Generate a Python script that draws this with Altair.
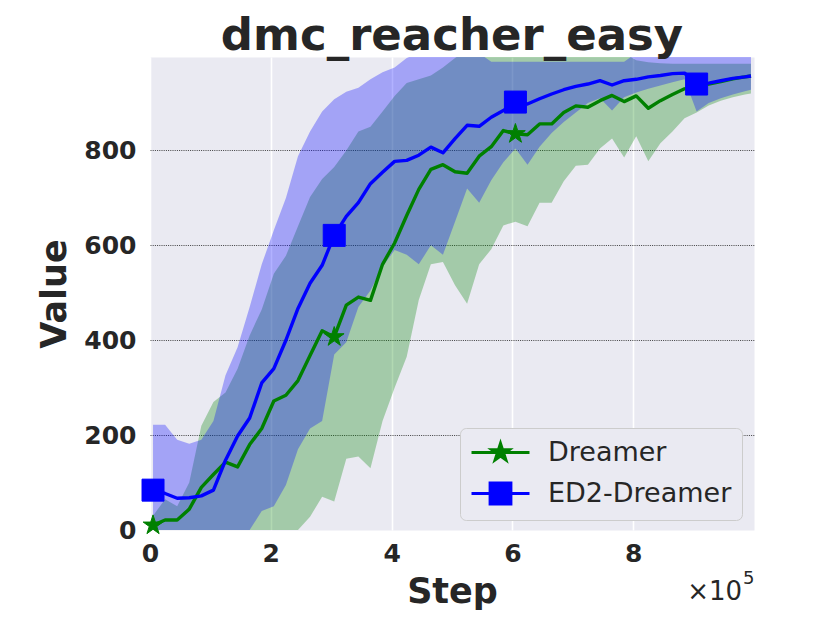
import altair as alt
import pandas as pd

# x positions (units of 1e5 steps)
STEP = [0.05, 0.25, 0.45, 0.65, 0.85, 1.05, 1.25, 1.45, 1.65, 1.85,
        2.05, 2.25, 2.45, 2.65, 2.85, 3.05, 3.25, 3.45, 3.65, 3.85,
        4.05, 4.25, 4.45, 4.65, 4.85, 5.05, 5.25, 5.45, 5.65, 5.85,
        6.05, 6.25, 6.45, 6.65, 6.85, 7.05, 7.25, 7.45, 7.65, 7.85,
        8.05, 8.25, 8.45, 8.65, 8.85, 9.05, 9.25, 9.45, 9.65, 9.85, 9.95]

DREAMER_MEAN = [10, 21, 21, 44, 90, 117, 143, 133, 180, 214,
                272, 284, 315, 368, 420, 407, 474, 491, 484, 560,
                605, 663, 718, 760, 770, 755, 752, 788, 808, 842,
                835, 833, 856, 856, 880, 894, 891, 905, 916, 903,
                915, 889, 905, 918, 930, 936, 940, 945, 951, 955, 957]
DREAMER_HI = [30, 65, 50, 100, 220, 270, 290, 340, 410, 465,
              540, 578, 640, 702, 740, 765, 800, 840, 850, 882,
              915, 942, 950, 958, 975, 995, 1010, 1010, 1010, 1010,
              1010, 1010, 1010, 1010, 1010, 1010, 1010, 1010, 1010, 1005,
              990, 986, 984, 983, 983, 983, 983, 983, 983, 983, 983]
DREAMER_LO = [0, 0, 0, 0, 0, 0, 0, 0, 0, 0,
              0, 0, 0, 28, 70, 60, 150, 155, 130, 230,
              300, 365, 485, 560, 565, 516, 477, 560, 592, 642,
              650, 640, 690, 690, 735, 768, 770, 804, 825, 785,
              830, 777, 815, 840, 868, 880, 895, 905, 912, 918, 920]

ED2_MEAN = [84, 77, 67, 68, 72, 84, 147, 198, 236, 310,
            340, 400, 467, 520, 558, 621, 661, 690, 730, 754,
            777, 779, 790, 807, 795, 825, 853, 851, 870, 884,
            902, 898, 909, 919, 928, 935, 940, 947, 938, 947,
            950, 955, 958, 962, 963, 940, 942, 947, 952, 955, 957]
ED2_HI = [222, 222, 190, 182, 190, 230, 326, 385, 470, 560,
          632, 700, 788, 840, 882, 908, 924, 932, 950, 965,
          975, 995, 1005, 1005, 1005, 1005, 1005, 1005, 987, 987,
          987, 987, 987, 987, 987, 987, 987, 987, 987, 987,
          1005, 1005, 1005, 1005, 1005, 1005, 1005, 1005, 1005, 1005, 1005]
ED2_LO = [0, 0, 0, 0, 0, 0, 0, 0, 0, 40,
          50, 95, 170, 214, 230, 370, 396, 470, 505, 555,
          590, 580, 560, 600, 580, 650, 720, 690, 737, 775,
          804, 770, 808, 837, 860, 880, 900, 910, 884, 912,
          922, 930, 937, 944, 950, 882, 900, 910, 918, 925, 928]

MARKER_IDX = [0, 15, 30, 45]
SERIES = ["Dreamer", "ED2-Dreamer"]
COLORS = ["#008000", "#0000FF"]
X_TICKS = [0, 2, 4, 6, 8]
Y_TICKS = [0, 200, 400, 600, 800]
TITLE = "dmc_reacher_easy"

rows = []
for name, mean, lo, hi in [("Dreamer", DREAMER_MEAN, DREAMER_LO, DREAMER_HI),
                           ("ED2-Dreamer", ED2_MEAN, ED2_LO, ED2_HI)]:
    for i, s in enumerate(STEP):
        rows.append({"series": name, "step": s, "mean": mean[i], "lo": lo[i],
                     "hi": hi[i], "marker": i in MARKER_IDX})
df = pd.DataFrame(rows)

TEXT = "#262626"
FONT = "DejaVu Sans"

x_axis = alt.Axis(values=X_TICKS, format="d", title="Step", grid=True,
                  gridColor="white", gridWidth=1.6, domain=False, ticks=False,
                  labelFlush=False, labelPadding=11, titlePadding=8)
y_axis = alt.Axis(values=Y_TICKS, format="d", title="Value", grid=True,
                  gridColor="#222222", gridDash=[1, 1.2], gridWidth=1,
                  gridOpacity=alt.condition("datum.value == 0", alt.value(0), alt.value(0.85)),
                  domain=False, ticks=False, labelFlush=False, labelPadding=14, titlePadding=11)

x_scale = alt.Scale(domain=[0, 10], nice=False, zero=False)
y_scale = alt.Scale(domain=[0, 997], nice=False, zero=False)
c_scale = alt.Scale(domain=SERIES, range=COLORS)


def X():
    return alt.X("step:Q", scale=x_scale, axis=x_axis, title="Step")


def Y(field):
    return alt.Y(field, type="quantitative", scale=y_scale, axis=y_axis, title="Value")


base = alt.Chart(df)

band_d = base.transform_filter("datum.series == 'Dreamer'").mark_area(
    clip=True, color=COLORS[0], opacity=0.3
).encode(x=X(), y=Y("lo"), y2="hi:Q")

band_e = base.transform_filter("datum.series == 'ED2-Dreamer'").mark_area(
    clip=True, color=COLORS[1], opacity=0.3
).encode(x=X(), y=Y("lo"), y2="hi:Q")

# legend symbols: line segment (58 px) with the series marker; 1 unit = 13 px
LEG_STAR = ("M-2.23,0L2.23,0M0,-0.70L0.157,-0.216L0.666,-0.216L0.254,0.083L0.411,0.566"
            "L0,0.267L-0.411,0.566L-0.254,0.083L-0.666,-0.216L-0.157,-0.216Z")
LEG_SQ = "M-2.23,0L2.23,0M-0.8,-0.8L0.8,-0.8L0.8,0.8L-0.8,0.8Z"

legend = alt.Legend(
    title=None, orient="none", legendX=310, legendY=371,
    labelFont=FONT, labelFontSize=27, labelColor=TEXT, labelLimit=500, labelOffset=33,
    symbolSize=676, symbolOffset=16, symbolStrokeWidth=3, symbolOpacity=1,
    rowPadding=11, padding=10,
    fillColor="#EAEAF2", strokeColor="#CCCCCC", cornerRadius=6,
)

lines = base.mark_line(clip=True, strokeWidth=3.4, strokeJoin="round").encode(
    x=X(), y=Y("mean"),
    stroke=alt.Stroke("series:N", scale=c_scale, legend=legend),
)

STAR = ("M0,-1L0.2245,-0.309L0.9511,-0.309L0.3633,0.118L0.5878,0.809L0,0.382"
        "L-0.5878,0.809L-0.3633,0.118L-0.9511,-0.309L-0.2245,-0.309Z")

stars = base.transform_filter("datum.series == 'Dreamer' && datum.marker").mark_point(
    shape=STAR, size=430, filled=True, fill=COLORS[0], stroke=COLORS[0],
    strokeWidth=1, opacity=1
).encode(x=X(), y=Y("mean"))

squares = base.transform_filter("datum.series == 'ED2-Dreamer' && datum.marker").mark_point(
    shape="square", size=484, filled=True, fill=COLORS[1], stroke=COLORS[1],
    strokeWidth=1, opacity=1
).encode(x=X(), y=Y("mean"))

# invisible layer that only feeds the legend (fill + stroke + shape)
legend_layer = base.transform_filter("datum.marker").mark_point(filled=True, opacity=0).encode(
    x=X(), y=Y("mean"),
    fill=alt.Fill("series:N", scale=c_scale, legend=legend),
    stroke=alt.Stroke("series:N", scale=c_scale, legend=legend),
    shape=alt.Shape("series:N", scale=alt.Scale(domain=SERIES, range=[LEG_STAR, LEG_SQ]), legend=legend),
)

one = pd.DataFrame({"k": [0]})
title_txt = alt.Chart(one).mark_text(
    text=TITLE, align="center", baseline="alphabetic", font=FONT, fontSize=45,
    fontWeight="bold", color=TEXT
).encode(x=alt.value(302), y=alt.value(-7))
offset_main = alt.Chart(one).mark_text(
    text="×10", align="right", baseline="alphabetic", font=FONT, fontSize=26, color=TEXT
).encode(x=alt.value(592), y=alt.value(543))
offset_exp = alt.Chart(one).mark_text(
    text="5", align="left", baseline="alphabetic", font=FONT, fontSize=18, color=TEXT
).encode(x=alt.value(593), y=alt.value(527))

chart = alt.layer(band_d, band_e, lines, stars, squares, legend_layer,
                  title_txt, offset_main, offset_exp).properties(
    width=604, height=473,
    autosize=alt.AutoSizeParams(type="none"),
    padding={"left": 142, "top": 49, "right": 60, "bottom": 80},
    background="white",
).configure_view(
    fill="#EAEAF2", stroke="transparent"
).configure_axis(
    labelFont=FONT, labelFontSize=25, labelFontWeight="bold", labelColor=TEXT,
    titleFont=FONT, titleFontSize=35, titleFontWeight="bold", titleColor=TEXT,
)

chart.save("out.html", embed_options={"renderer": "svg", "actions": False})
